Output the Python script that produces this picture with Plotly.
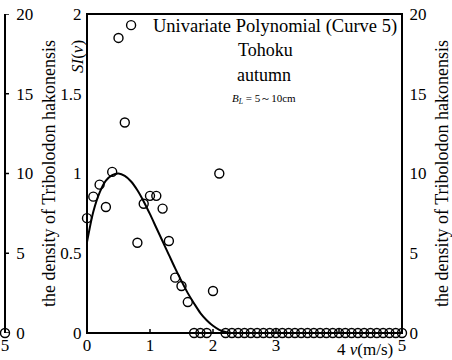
import plotly.graph_objects as go

# Observed suitability index values SI(v) at flow velocity v (m/s)
OBS_V = [0.0, 0.1, 0.2, 0.3, 0.4, 0.5, 0.6, 0.7, 0.8, 0.9,
         1.0, 1.1, 1.2, 1.3, 1.4, 1.5, 1.6, 1.7, 1.8, 1.9,
         2.0, 2.1, 2.2, 2.3, 2.4, 2.5, 2.6, 2.7, 2.8, 2.9,
         3.0, 3.1, 3.2, 3.3, 3.4, 3.5, 3.6, 3.7, 3.8, 3.9,
         4.0, 4.1, 4.2, 4.3, 4.4, 4.5, 4.6, 4.7, 4.8, 4.9, 5.0]
OBS_SI = [0.72, 0.855, 0.93, 0.79, 1.01, 1.85, 1.32, 1.93, 0.566, 0.81,
          0.86, 0.86, 0.78, 0.577, 0.347, 0.295, 0.194, 0.0, 0.0, 0.0,
          0.263, 1.0, 0.0, 0.0, 0.0, 0.0, 0.0, 0.0, 0.0, 0.0,
          0.0, 0.0, 0.0, 0.0, 0.0, 0.0, 0.0, 0.0, 0.0, 0.0,
          0.0, 0.0, 0.0, 0.0, 0.0, 0.0, 0.0, 0.0, 0.0, 0.0, 0.0]

# Fitted univariate polynomial (Curve 5)
CURVE_V = [0.0, 0.1, 0.2, 0.3, 0.4, 0.5, 0.6, 0.7, 0.8, 0.9, 1.0, 1.1, 1.2,
           1.3, 1.4, 1.5, 1.6, 1.7, 1.8, 1.9, 2.0, 2.1, 2.2, 2.27]
CURVE_SI = [0.57, 0.76, 0.88, 0.955, 0.99, 1.0, 0.985, 0.95, 0.895, 0.825,
            0.745, 0.66, 0.575, 0.49, 0.405, 0.325, 0.25, 0.185, 0.125,
            0.08, 0.045, 0.02, 0.006, 0.0]

# Partial neighbouring panel (cut off at left edge)
PREV_V = [5.0]
PREV_SI = [0.0]

X_TICKS = [0, 1, 2, 3, 4, 5]
X_LABELS = ["0", "1", "2", "3", "4", "5"]
Y_TICKS = [0, 0.5, 1, 1.5, 2]
Y_LABELS = ["0", "0.5", "1", "1.5", "2"]
D_TICKS = [0, 5, 10, 15, 20]
D_LABELS = ["0", "5", "10", "15", "20"]

TITLE = "Univariate Polynomial (Curve 5)"
REGION = "Tohoku"
SEASON = "autumn"
SIZE_RANGE = "<i>B</i><sub><i>L</i></sub> = 5～10cm"
DENSITY_LABEL = "the density of Tribolodon hakonensis"
X_UNIT = "<i>v</i>(m/s)"

FONT = "Times New Roman, Liberation Serif, serif"
W, H = 452, 360
ML, MR, MT, MB = 5, 50, 14, 27
PW = W - ML - MR
PH = H - MT - MB


def px(xp):
    return (xp - ML) / PW


def py(yp):
    return (H - MB - yp) / PH


marker = dict(symbol="circle-open", size=9, color="black", line=dict(width=1.4, color="black"))
ghost = dict(mode="markers", marker=dict(opacity=0, size=1), hoverinfo="skip", showlegend=False)

fig = go.Figure()
fig.add_trace(go.Scatter(x=CURVE_V, y=CURVE_SI, mode="lines",
                         line=dict(color="black", width=2, shape="spline", smoothing=0.8),
                         xaxis="x", yaxis="y", hoverinfo="skip"))
fig.add_trace(go.Scatter(x=OBS_V, y=OBS_SI, mode="markers", marker=marker,
                         xaxis="x", yaxis="y", cliponaxis=False))
fig.add_trace(go.Scatter(x=PREV_V, y=PREV_SI, mode="markers", marker=marker,
                         xaxis="x2", yaxis="y4", cliponaxis=False))
# invisible traces so that the density axes are registered and drawn
fig.add_trace(go.Scatter(x=[X_TICKS[0]] * len(D_TICKS), y=D_TICKS, xaxis="x", yaxis="y2", **ghost))
fig.add_trace(go.Scatter(x=PREV_V * len(D_TICKS), y=D_TICKS, xaxis="x2", yaxis="y3", **ghost))

# the "4" label is written together with the unit label so both sit side by side
x_ticktext = [("" if v == X_TICKS[4] else lab) for v, lab in zip(X_TICKS, X_LABELS)]

axfont = dict(family=FONT, size=17, color="black")
titlefont = dict(family=FONT, size=18, color="black")
common = dict(showgrid=False, zeroline=False, automargin=False, showline=False,
              linecolor="black", tickcolor="rgba(0,0,0,0)", tickfont=axfont)
fig.update_layout(
    template="none",
    width=W, height=H,
    margin=dict(l=ML, r=MR, t=MT, b=MB, pad=0, autoexpand=False),
    paper_bgcolor="white", plot_bgcolor="rgba(0,0,0,0)",
    showlegend=False,
    font=dict(family=FONT, color="black"),
    xaxis=dict(domain=[px(87), 1], range=[0, 5], tickvals=X_TICKS, ticktext=x_ticktext,
               ticks="inside", ticklen=4, anchor="y", **common),
    yaxis=dict(domain=[0, 1], range=[0, 2], tickvals=Y_TICKS, ticktext=Y_LABELS,
               ticks="outside", ticklen=1, anchor="x", **common),
    yaxis2=dict(range=[0, 20], tickvals=D_TICKS, ticktext=D_LABELS, overlaying="y",
                side="right", anchor="x", ticks="outside", ticklen=3,
                title=dict(text=DENSITY_LABEL, font=titlefont, standoff=10), **common),
    xaxis2=dict(domain=[0, 0.01], range=[5, 6], tickvals=[5], ticktext=["5"],
                ticks="", anchor="y4", **common),
    yaxis4=dict(domain=[0, 1], range=[0, 2], anchor="x2", visible=False,
                showgrid=False, zeroline=False),
    yaxis3=dict(range=[0, 20], tickvals=D_TICKS, ticktext=D_LABELS, overlaying="y4",
                side="right", anchor="x2", ticks="outside", ticklen=3,
                title=dict(text=DENSITY_LABEL, font=titlefont, standoff=10), **common),
)

# axis lines and tick marks drawn as shapes tied to the axes
ln = dict(color="black", width=2)
tk = dict(color="black", width=1.5)
shapes = [
    dict(type="rect", xref="x domain", yref="y domain", x0=0, x1=1, y0=0, y1=1, line=ln),
    dict(type="line", xref="paper", yref="paper", x0=0, x1=0, y0=0, y1=1, line=ln),
]
for v in X_TICKS:
    shapes.append(dict(type="line", xref="x", yref="y", x0=v, x1=v,
                       ysizemode="pixel", yanchor=Y_TICKS[0], y0=0, y1=4, line=tk))
for s in Y_TICKS:
    shapes.append(dict(type="line", xref="x", yref="y", y0=s, y1=s,
                       xsizemode="pixel", xanchor=X_TICKS[0], x0=-4, x1=0, line=tk))
for d in D_TICKS:
    shapes.append(dict(type="line", xref="x", yref="y2", y0=d, y1=d,
                       xsizemode="pixel", xanchor=X_TICKS[-1], x0=0, x1=4, line=tk))
    shapes.append(dict(type="line", xref="paper", yref="y3", y0=d, y1=d,
                       xsizemode="pixel", xanchor=0, x0=0, x1=4, line=tk))
fig.update_layout(shapes=shapes)

ann = [
    (TITLE, 275, 27, 18.5, 0),
    (REGION, 265, 50, 18, 0),
    (SEASON, 264, 75, 18, 0),
    (SIZE_RANGE, 264, 99, 11, 0),
    ("<i>SI</i>(<i>v</i>)", 77, 57, 17, -90),
]
for text, x, y, s, ang in ann:
    fig.add_annotation(text=text, x=px(x), y=py(y), xref="paper", yref="paper",
                       xanchor="center", yanchor="middle", showarrow=False,
                       textangle=ang, font=dict(family=FONT, size=s, color="black"))

fig.add_annotation(text=X_LABELS[4] + " " + X_UNIT, x=X_TICKS[4], xref="x",
                   y=py(349), yref="paper", xanchor="left", yanchor="middle",
                   xshift=-4, showarrow=False, font=dict(family=FONT, size=17, color="black"))

fig.write_html("out.html")
